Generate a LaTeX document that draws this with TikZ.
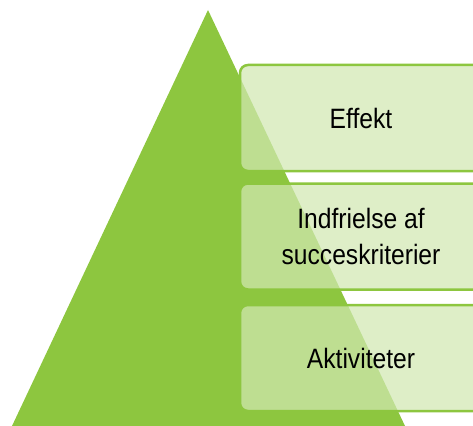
\documentclass[tikz,border=0pt]{standalone}
\usepackage{fontspec}
\setmainfont{Liberation Sans}[FakeStretch=0.88]
\usepackage{tikz}
\definecolor{gron}{RGB}{141,198,63}

\begin{document}
\begin{tikzpicture}[x=1pt,y=-1pt,
  boks/.style={draw=gron, line width=2.5pt, rounded corners=8pt,
    fill=gron!40!white, fill opacity=0.72, draw opacity=1, text opacity=1,
    minimum width=242pt, minimum height=106pt, align=center,
    font=\fontsize{28}{36}\selectfont}]
  \clip (0,0) rectangle (473,425);
   \coordinate (top) at (208,10);
   \coordinate (hojre) at (405,426);
   \coordinate (venstre) at (12,426);
 \fill[gron] (top) -- (hojre) -- (venstre) -- cycle;
    \node[boks] (effekt) at (361,118) {Effekt};
    \node[boks] (indfrielse) at (361,236.5) {Indfrielse af\\succeskriterier};
    \node[boks] (aktiviteter) at (361,358) {Aktiviteter};
   \end{tikzpicture}
\end{document}
